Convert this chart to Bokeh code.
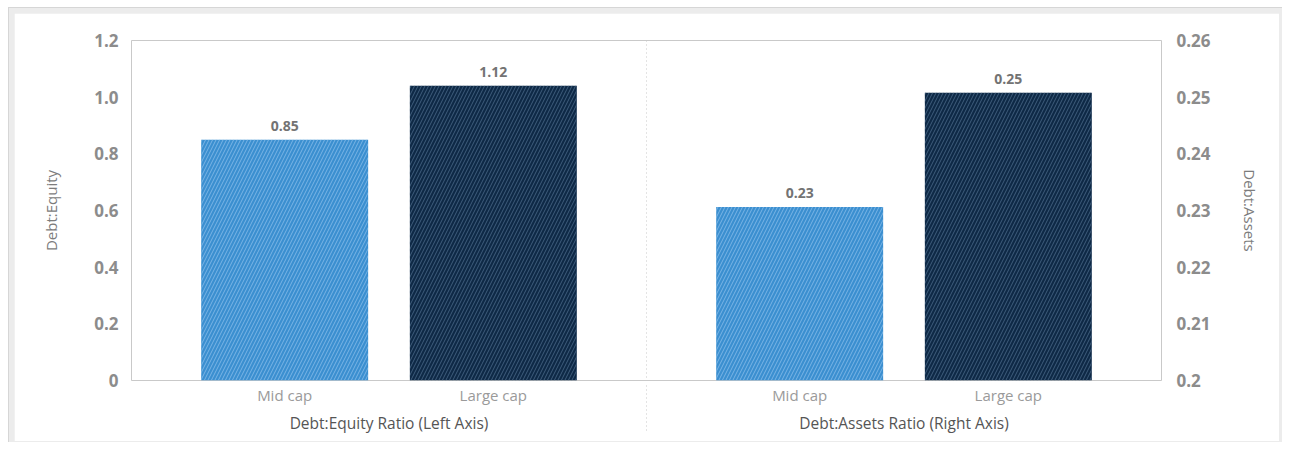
from bokeh.plotting import figure
from bokeh.models import FactorRange, Range1d, LinearAxis, FixedTicker, ColumnDataSource, Span
from bokeh.core.properties import value
from bokeh.embed import file_html
from bokeh.resources import INLINE

# ---------------- data ----------------
groups = ["Debt:Equity Ratio (Left Axis)", "Debt:Assets Ratio (Right Axis)"]
categories = ["Mid cap", "Large cap"]
de_values = [0.85, 1.04]
de_labels = ["0.85", "1.12"]
da_values = [0.2306, 0.2508]
da_labels = ["0.23", "0.25"]
left_ticks = [0, 0.2, 0.4, 0.6, 0.8, 1.0, 1.2]
left_tick_labels = ["0", "0.2", "0.4", "0.6", "0.8", "1.0", "1.2"]
right_ticks = [0.2, 0.21, 0.22, 0.23, 0.24, 0.25, 0.26]
right_tick_labels = ["0.2", "0.21", "0.22", "0.23", "0.24", "0.25", "0.26"]
bar_colors = ["#3b8fd0", "#0e2946"]
hatch_colors = ["#8ec0ec", "#4f6d8e"]

# ---------------- layout ----------------
W, H = 1274, 435                 # canvas size
PLOT_LEFT, PLOT_TOP, PLOT_W, PLOT_H = 117, 27, 1030, 340
FONT = "Open Sans"
GRID = "#c9c9c9"

pad = 0.234                      # half gap around each group (factor units)
bar_w = 0.8
l_lo, l_hi = left_ticks[0], left_ticks[-1]
r_lo, r_hi = right_ticks[0], right_ticks[-1]

factors = [(g, c) for g in groups for c in categories]
x_range = FactorRange(*factors, factor_padding=0.0, group_padding=2 * pad,
                      range_padding=pad, range_padding_units="absolute")

p = figure(width=W, height=H, x_range=x_range, y_range=Range1d(l_lo, l_hi),
           output_backend="svg", toolbar_location=None, title=None, min_border=0)
p.min_border_left = PLOT_LEFT
p.min_border_right = W - (PLOT_LEFT + PLOT_W)
p.min_border_top = PLOT_TOP
p.min_border_bottom = H - (PLOT_TOP + PLOT_H)
p.extra_y_ranges = {"right": Range1d(r_lo, r_hi)}
p.outline_line_color = GRID
p.outline_line_width = 1
p.background_fill_color = "white"
p.border_fill_color = "white"
p.grid.visible = False
p.styles = {"margin-left": "8px", "margin-top": "7px",
            "border-left": "1px solid #d6d6d6", "border-top": "1px solid #d6d6d6",
            "padding-left": "5px", "padding-top": "5px",
            "padding-right": "3px", "padding-bottom": "1px",
            "background-color": "#ececec"}

# ---------------- x axis (nested categories) ----------------
xa = p.xaxis[0]
xa.axis_line_color = None
xa.major_tick_line_color = None
xa.minor_tick_line_color = None
xa.major_tick_out = 0
xa.major_tick_in = 0
xa.major_label_standoff = 4
xa.major_label_text_font = FONT
xa.major_label_text_font_size = "15px"
xa.major_label_text_color = "#9a9a9a"
xa.group_text_font = FONT
xa.group_text_font_size = "15.5px"
xa.group_text_font_style = "normal"
xa.group_text_color = "#555555"
try:
    xa.separator_line_color = GRID
    xa.separator_line_width = 1
    xa.separator_line_dash = "1 3"
except AttributeError:
    pass

# ---------------- y axes ----------------
def style_axis(ax, title, standoff, title_standoff):
    ax.axis_label = title
    ax.axis_line_color = None
    ax.major_tick_line_color = None
    ax.minor_tick_line_color = None
    ax.major_tick_out = 0
    ax.major_tick_in = 0
    ax.major_label_standoff = standoff
    ax.major_label_text_font = FONT
    ax.major_label_text_font_size = "17px"
    ax.major_label_text_font_style = "bold"
    ax.major_label_text_color = "#8c8c8c"
    ax.axis_label_text_font = FONT
    ax.axis_label_text_font_size = "15px"
    ax.axis_label_text_font_style = "normal"
    ax.axis_label_text_color = "#7c7c7c"
    ax.axis_label_standoff = title_standoff

ly = p.yaxis[0]
ly.ticker = FixedTicker(ticks=left_ticks)
ly.major_label_overrides = {t: s for t, s in zip(left_ticks, left_tick_labels)}
style_axis(ly, "Debt:Equity", 13, 30)

ry = LinearAxis(y_range_name="right", ticker=FixedTicker(ticks=right_ticks))
ry.major_label_overrides = {t: s for t, s in zip(right_ticks, right_tick_labels)}
style_axis(ry, "Debt:Assets", 15, 26)
p.add_layout(ry, "right")

# ---------------- bars ----------------
src_l = ColumnDataSource(dict(x=[(groups[0], c) for c in categories], top=de_values,
                              label=de_labels, color=bar_colors, hatch=hatch_colors))
src_r = ColumnDataSource(dict(x=[(groups[1], c) for c in categories], top=da_values,
                              label=da_labels, color=bar_colors, hatch=hatch_colors))
for src, rng, base in ((src_l, "default", l_lo), (src_r, "right", r_lo)):
    p.vbar(x="x", top="top", bottom=base, width=bar_w, source=src, y_range_name=rng,
           fill_color="color", line_color=None,
           hatch_pattern="/", hatch_color="hatch", hatch_alpha=0.75,
           hatch_scale=7, hatch_weight=1)
    p.text(x="x", y="top", text="label", source=src, y_range_name=rng,
           text_font=value(FONT), text_font_size="14px", text_font_style="bold",
           text_color="#737373", text_align="center", text_baseline="bottom", y_offset=-9)

# ---------------- middle separator inside the plot ----------------
p.add_layout(Span(location=2 + pad, dimension="height", line_color=GRID,
                  line_width=1, line_dash="1 3"))

open("out.html", "w").write(file_html(p, INLINE))
